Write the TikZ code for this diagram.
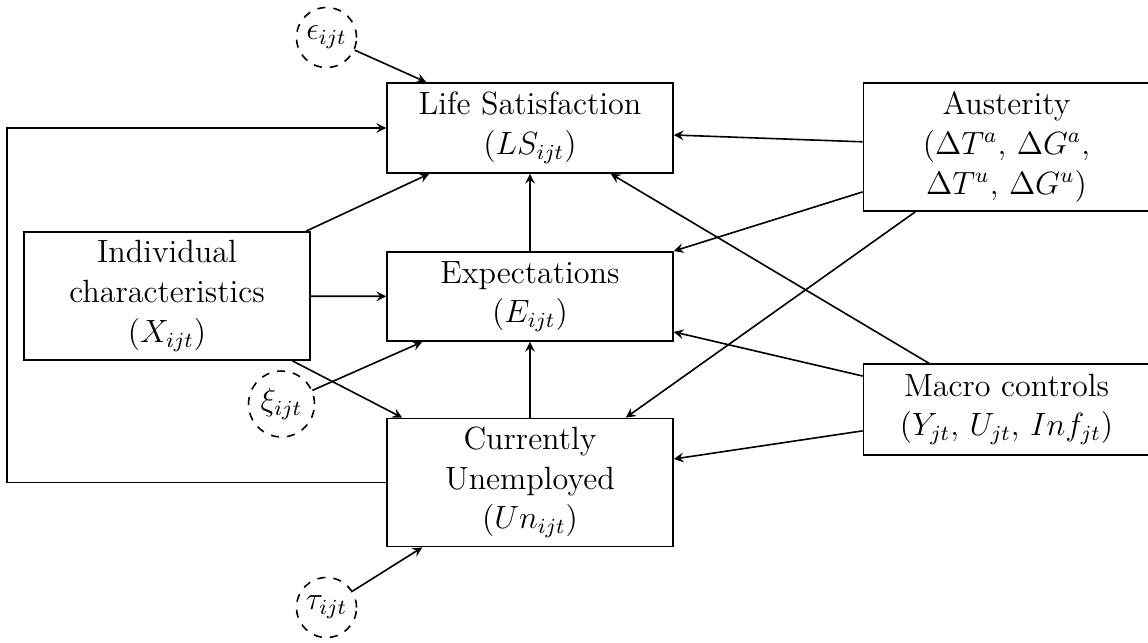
\documentclass[tikz,border=0pt]{standalone}
\usetikzlibrary{calc}
\begin{document}
\begin{tikzpicture}[x=0.3731pt,y=-0.3731pt,line width=0.6pt,
  every node/.style={font=\fontsize{12}{14.8}\selectfont},
  box/.style={draw, align=center, minimum width=106.7pt, inner sep=2pt},
  err/.style={draw, dashed, circle, inner sep=0pt},
  arr/.style={-stealth}]
\useasboundingbox (0,0) rectangle (1148,643);
\node[box, minimum height=33.6pt] (ls) at (530,128) {Life Satisfaction\\$(LS_{ijt})$};
\node[box, minimum height=33.3pt] (ex) at (530,296.5) {Expectations\\$(E_{ijt})$};
\node[box, minimum height=47.8pt] (cu) at (530,482.5) {Currently\\Unemployed\\$(Un_{ijt})$};
\node[box, minimum height=47.8pt] (ic) at (167,296) {Individual\\characteristics\\$(X_{ijt})$};
\node[box, minimum height=47.8pt] (au) at (1006.5,147) {Austerity\\$(\Delta T^a$, $\Delta G^a$,\\$\Delta T^u$, $\Delta G^u)$};
\node[box, minimum height=33.9pt] (mc) at (1006.5,409.5) {Macro controls\\$(Y_{jt}$, $U_{jt}$, $Inf_{jt})$};
\node[err, minimum size=22.4pt] (eps) at (326.5,37.5) {$\epsilon_{ijt}$};
\node[err, minimum size=24.6pt] (xi) at (281.5,404) {$\xi_{ijt}$};
\node[err, minimum size=22.4pt] (tau) at (326.5,607.5) {$\tau_{ijt}$};
% errors
\draw[arr] (eps) -- ($(ls.north west)+(40,0)$);
\draw[arr] (xi) -- ($(ex.south west)+(36,0)$);
\draw[arr] (tau) -- ($(cu.south west)+(36,0)$);
% individual characteristics
\draw[arr] (ic) -- ($(ls.south west)+(43,0)$);
\draw[arr] (ic) -- (ex);
\draw[arr] (ic) -- ($(cu.north west)+(16,0)$);
% chain
\draw[arr] (cu) -- (ex);
\draw[arr] (ex) -- (ls);
\draw[arr] (cu.west) -- ++(-379,0) |- (ls.west);
% austerity
\draw[arr] (au) -- ($(ls.east)+(0,7)$);
\draw[arr] (au) -- (ex.north east);
\draw[arr] (au) -- ($(cu.north east)+(-48,0)$);
% macro controls
\draw[arr] (mc) -- ($(ls.south east)+(-63,0)$);
\draw[arr] (mc) -- ($(ex.south east)+(0,-10)$);
\draw[arr] (mc) -- ($(cu.east)+(0,-23.5)$);
\end{tikzpicture}
\end{document}
